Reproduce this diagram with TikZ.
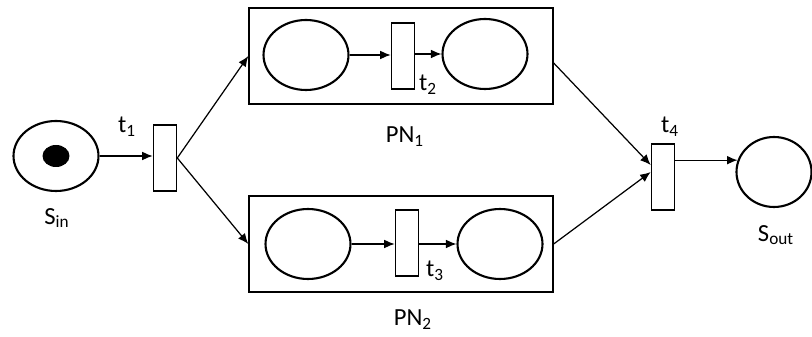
\documentclass[tikz,border=0pt]{standalone}
\usepackage{fontspec}
\setmainfont{Carlito}
\usetikzlibrary{positioning, arrows.meta, shapes.geometric}

\begin{document}
\begin{tikzpicture}[
  x=0.02cm, y=-0.02cm,
  place/.style={draw, ellipse, line width=1.2pt, minimum width=1.7cm, minimum height=1.4cm, inner sep=0pt},
  trans/.style={draw, rectangle, line width=0.9pt, minimum width=0.46cm, minimum height=1.32cm, inner sep=0pt},
  token/.style={ellipse, fill=black, minimum width=0.54cm, minimum height=0.44cm, inner sep=0pt},
  subnet/.style={draw, rectangle, line width=0.8pt, minimum width=6.08cm, minimum height=1.92cm, inner sep=0pt},
  arr/.style={-{Latex[length=6pt, width=5pt]}, line width=0.7pt},
  lbl/.style={font=\fontsize{14}{16}\selectfont, inner sep=1pt},
]
\useasboundingbox (0,0) rectangle (812,337);

% === Start place and first transition ===
\node[place] (sin) at (56,156) {};
\node[token] (tok) at (sin) {};
\node[trans] (t1) at (165,158) {};

% === Sub-net PN1 ===
\node[subnet] (pn1) at (401,56) {};
\node[place] (p11) at (306,55) {};
\node[trans] (t2) at (403,56) {};
\node[place] (p12) at (485,54) {};

% === Sub-net PN2 ===
\node[subnet] (pn2) at (401,244) {};
\node[place] (p21) at (308,244) {};
\node[trans] (t3) at (407,243) {};
\node[place] (p22) at (500,244) {};

% === Join transition and end place ===
\node[trans] (t4) at (663,177) {};
\node[place, minimum width=1.5cm] (sout) at (774,172) {};

% === Labels ===
\node[lbl] (lt1) at (127,127) {t\textsubscript{1}};
\node[lbl] (lt2) at (428,85) {t\textsubscript{2}};
\node[lbl] (lt3) at (435,271) {t\textsubscript{3}};
\node[lbl] (lt4) at (670,127) {t\textsubscript{4}};
\node[lbl] (lsin) at (57,218) {S\textsubscript{in}};
\node[lbl] (lsout) at (776,235) {S\textsubscript{out}};
\node[lbl] (lpn1) at (405,137) {PN\textsubscript{1}};
\node[lbl] (lpn2) at (413,320) {PN\textsubscript{2}};

% === Arcs ===
\draw[arr] (sin) -- (t1.west |- sin);
\draw[arr] (t1.east) -- (pn1.west);
\draw[arr] (t1.east) -- (pn2.west);

\draw[arr] (p11) -- (t2.west |- p11);
\draw[arr] (t2.east |- p12) -- (p12);
\draw[arr] (p21) -- (t3.west |- p21);
\draw[arr] (t3.east |- p22) -- (p22);

\draw[arr] ([yshift=-0.14cm]pn1.east) -- ([yshift=0.24cm]t4.west);
\draw[arr] (pn2.east) -- ([yshift=0.1cm]t4.west);
\draw[arr] (t4.east |- sout.162) -- (sout.162);

\end{tikzpicture}
\end{document}
